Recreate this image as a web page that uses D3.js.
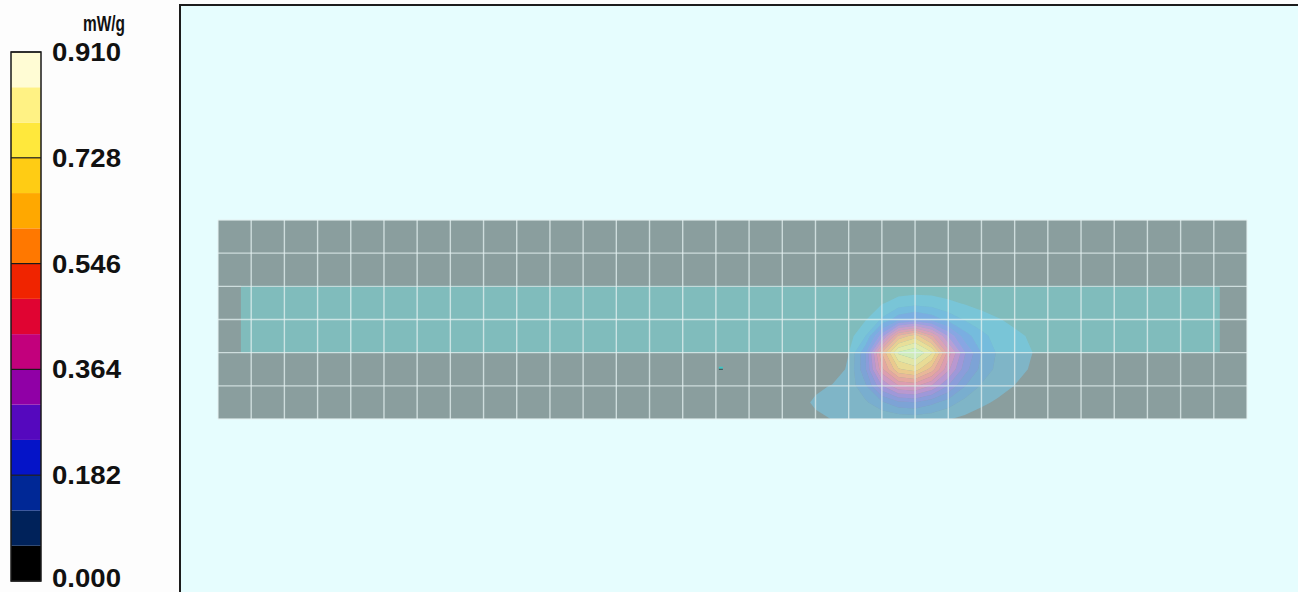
<!DOCTYPE html>
<html>
<head>
<meta charset="utf-8">
<script src="https://cdn.jsdelivr.net/npm/d3@7"></script>
<style>
  html, body { margin: 0; padding: 0; background: #fdfdfd; }
  svg { display: block; }
</style>
</head>
<body>
<svg id="chart" width="1298" height="592"></svg>
<script>
// ---- SAR colour scale (mW/g) ----
const sarMax = 0.910;
const scaleTicks = [0.000, 0.182, 0.364, 0.546, 0.728, 0.910];
const scaleUnit = "mW/g";
// 15 bands, lowest to highest
const bandColors = [
  "#000000", "#00225a", "#002896", "#0514c8", "#5508be",
  "#9000a6", "#c2007c", "#e00432", "#f02400", "#ff7800",
  "#ffa800", "#ffcc14", "#ffe83c", "#fff284", "#fffcd4"
];
// pastel fills used for the field overlay (bands 1..14; band 0 left clear)
const overlayColors = [
  "#70d0f8", "#6cbcf8", "#76a6f8", "#8c9cf6", "#a896f0", "#c896e0", "#e098cc",
  "#f09cb4", "#f8a8a0", "#fcbc98", "#fad08c", "#f6e494", "#eef0a8", "#d8f6bc"
];
const overlayAlpha = [0.45, 0.55, 0.62, 0.68, 0.72, 0.75, 0.78, 0.8, 0.82, 0.84, 0.86, 0.88, 0.88, 0.88];

// ---- scan area, in grid steps ----
const gridCols = 31;
const gridRows = 6;
const liquidU = [0.69, 30.18];
const liquidV = [2, 4];
const probeMark = [15.15, 4.47];

// ---- measured SAR samples around the hot spot (mW/g) ----
const fieldU = [17.5, 18, 18.5, 19, 19.5, 20, 20.5, 21, 21.5, 22, 22.5, 23, 23.5, 24, 24.5, 25];
const fieldV = [2, 2.5, 3, 3.5, 4, 4.5, 5, 5.5, 6];
const fieldValues = [
  [0.000,0.000,0.000,0.002,0.005,0.012,0.021,0.026,0.026,0.022,0.019,0.016,0.013,0.011,0.008,0.006],
  [0.000,0.000,0.001,0.006,0.022,0.055,0.085,0.095,0.088,0.072,0.055,0.040,0.033,0.026,0.020,0.015],
  [0.000,0.001,0.003,0.016,0.055,0.130,0.220,0.260,0.220,0.160,0.115,0.085,0.064,0.049,0.037,0.028],
  [0.000,0.001,0.006,0.035,0.120,0.340,0.620,0.700,0.560,0.360,0.210,0.140,0.096,0.071,0.055,0.040],
  [0.001,0.003,0.010,0.060,0.230,0.610,0.860,0.910,0.800,0.520,0.310,0.180,0.112,0.081,0.062,0.046],
  [0.008,0.014,0.026,0.070,0.230,0.530,0.720,0.760,0.640,0.440,0.270,0.160,0.104,0.075,0.057,0.043],
  [0.026,0.047,0.064,0.085,0.170,0.360,0.480,0.500,0.420,0.300,0.185,0.115,0.080,0.060,0.046,0.034],
  [0.039,0.071,0.092,0.095,0.110,0.170,0.230,0.240,0.200,0.150,0.100,0.070,0.053,0.041,0.032,0.024],
  [0.026,0.047,0.062,0.063,0.062,0.066,0.075,0.085,0.078,0.064,0.048,0.038,0.031,0.024,0.019,0.014]
];

const svg = d3.select("#chart");
const FONT = "'Liberation Sans', Arial, sans-serif";

// ---- colour bar ----
const cs = d3.scaleLinear().domain([0, sarMax]).range([581, 52]);
const barX = 11, barW = 30;
const nBands = bandColors.length;
const bandStep = sarMax / nBands;
const gBar = svg.append("g");
gBar.selectAll("rect.band")
  .data(bandColors)
  .join("rect")
  .attr("class", "band")
  .attr("x", barX)
  .attr("width", barW)
  .attr("y", (d, i) => cs((i + 1) * bandStep))
  .attr("height", (d, i) => cs(i * bandStep) - cs((i + 1) * bandStep))
  .attr("fill", d => d);
gBar.selectAll("line.tick")
  .data(scaleTicks)
  .join("line")
  .attr("class", "tick")
  .attr("x1", barX).attr("x2", barX + barW)
  .attr("y1", d => cs(d)).attr("y2", d => cs(d))
  .attr("stroke", "#1a1a1a").attr("stroke-width", 1.2);
gBar.append("rect")
  .attr("x", barX).attr("y", cs(sarMax))
  .attr("width", barW).attr("height", cs(0) - cs(sarMax))
  .attr("fill", "none").attr("stroke", "#1a1a1a").attr("stroke-width", 1.5);
gBar.selectAll("text.lbl")
  .data(scaleTicks)
  .join("text")
  .attr("class", "lbl")
  .attr("x", 52)
  .attr("y", d => Math.min(cs(d) + 9, 587))
  .attr("font-family", FONT)
  .attr("font-weight", "bold")
  .attr("font-size", 25)
  .attr("textLength", 69)
  .attr("lengthAdjust", "spacingAndGlyphs")
  .attr("fill", "#111")
  .text(d => d.toFixed(3));
svg.append("text")
  .attr("x", 83).attr("y", 31)
  .attr("font-family", FONT)
  .attr("font-weight", "bold")
  .attr("font-size", 22)
  .attr("textLength", 42)
  .attr("lengthAdjust", "spacingAndGlyphs")
  .attr("fill", "#111")
  .text(scaleUnit);

// ---- plot panel ----
svg.append("rect")
  .attr("x", 180).attr("y", 5)
  .attr("width", 1200).attr("height", 700)
  .attr("fill", "#e6fdfe")
  .attr("stroke", "#1c1c1c").attr("stroke-width", 2);

const x = d3.scaleLinear().domain([0, gridCols]).range([218, 1247]);
const y = d3.scaleLinear().domain([0, gridRows]).range([220, 419]);

svg.append("clipPath").attr("id", "phantomClip")
  .append("rect")
  .attr("x", x(0)).attr("y", y(0))
  .attr("width", x(gridCols) - x(0)).attr("height", y(gridRows) - y(0));

// scan area
svg.append("rect")
  .attr("x", x(0)).attr("y", y(0))
  .attr("width", x(gridCols) - x(0)).attr("height", y(gridRows) - y(0))
  .attr("fill", "#8a9e9e");
// liquid-filled region
svg.append("rect")
  .attr("x", x(liquidU[0])).attr("y", y(liquidV[0]))
  .attr("width", x(liquidU[1]) - x(liquidU[0])).attr("height", y(liquidV[1]) - y(liquidV[0]))
  .attr("fill", "#80bcbc");
svg.append("line")
  .attr("x1", x(liquidU[0])).attr("x2", x(liquidU[1]))
  .attr("y1", y(liquidV[0])).attr("y2", y(liquidV[0]))
  .attr("stroke", "#5c8e8e").attr("stroke-width", 1.2);

// SAR field: one ring per colour band
const du = fieldU[1] - fieldU[0];
const dv = fieldV[1] - fieldV[0];
const proj = d3.geoTransform({
  point(px, py) {
    this.stream.point(x(fieldU[0] + (px - 0.5) * du), y(fieldV[0] + (py - 0.5) * dv));
  }
});
const path = d3.geoPath(proj);
const levels = d3.range(1, nBands).map(k => k * bandStep);
const contours = d3.contours()
  .size([fieldU.length, fieldV.length])
  .thresholds(levels)(fieldValues.flat());
const gField = svg.append("g").attr("clip-path", "url(#phantomClip)");
contours.forEach((c, k) => {
  const outer = path(c) || "";
  const inner = contours[k + 1] ? (path(contours[k + 1]) || "") : "";
  if (!outer) return;
  gField.append("path")
    .attr("d", outer + inner)
    .attr("fill-rule", "evenodd")
    .attr("fill", overlayColors[k])
    .attr("fill-opacity", overlayAlpha[k]);
});

// probe position marker
svg.append("rect")
  .attr("x", x(probeMark[0]) - 2).attr("y", y(probeMark[1]) - 1.5)
  .attr("width", 4).attr("height", 2)
  .attr("fill", "#3cc6c6");
svg.append("rect")
  .attr("x", x(probeMark[0]) - 2).attr("y", y(probeMark[1]) + 0.5)
  .attr("width", 4).attr("height", 1.2)
  .attr("fill", "#3d5e5e");

// measurement grid
const gGrid = svg.append("g")
  .attr("stroke", "#e4f2f2").attr("stroke-opacity", 0.75).attr("stroke-width", 1.4);
gGrid.selectAll("line.v")
  .data(d3.range(0, gridCols + 1))
  .join("line").attr("class", "v")
  .attr("x1", d => x(d)).attr("x2", d => x(d))
  .attr("y1", y(0)).attr("y2", y(gridRows));
gGrid.selectAll("line.h")
  .data(d3.range(0, gridRows + 1))
  .join("line").attr("class", "h")
  .attr("x1", x(0)).attr("x2", x(gridCols))
  .attr("y1", d => y(d)).attr("y2", d => y(d));
</script>
</body>
</html>
